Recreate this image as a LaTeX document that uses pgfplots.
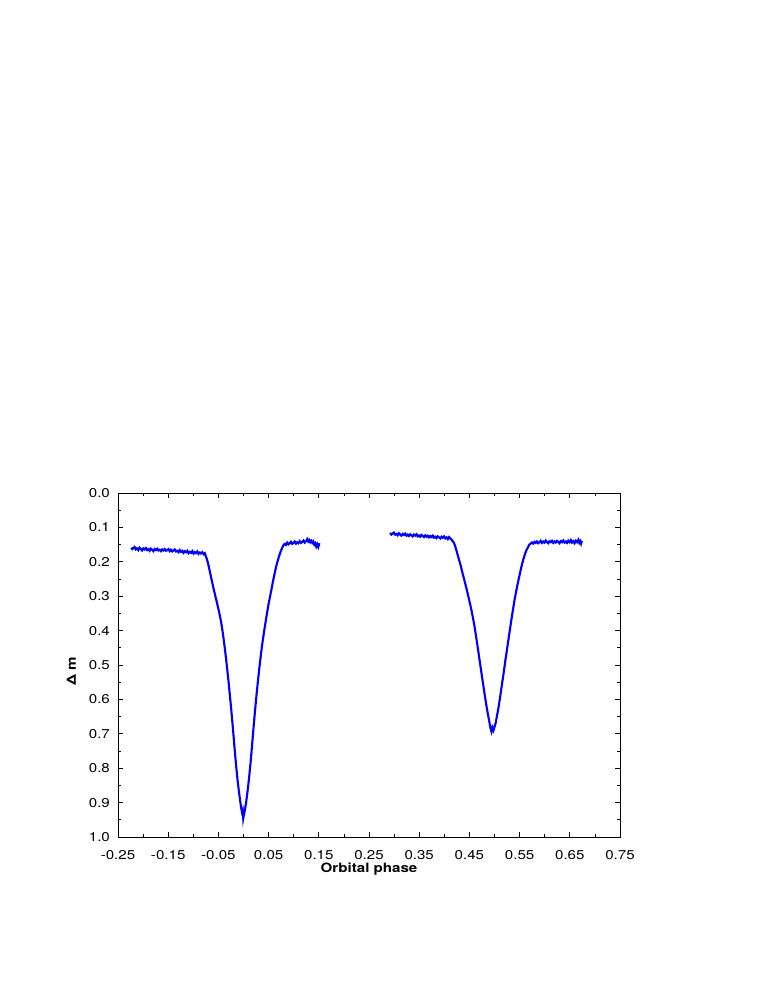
\documentclass[border=0pt]{standalone}
\usepackage{fontspec}
\setmainfont[FakeStretch=1.18]{TeX Gyre Heros}
\usepackage{pgfplots}
\pgfplotsset{compat=1.18}
\begin{document}
\fontsize{9.6}{11.5}\selectfont
\begin{tikzpicture}
% page area around the axis box (758 x 981 px at 0.75 pt/px)
\useasboundingbox (-88.5pt,-108pt) rectangle (480pt,627.75pt);
\begin{axis}[
    scale only axis,
    width=376.5pt, height=258pt,
    xmin=-0.25, xmax=0.75,
    ymin=0, ymax=1,
    y dir=reverse,
    xtick={-0.25,-0.15,...,0.76},
    xticklabels={-0.25,-0.15,-0.05,0.05,0.15,0.25,0.35,0.45,0.55,0.65,0.75},
    ytick={0,0.1,...,1.01},
    yticklabels={0.0,0.1,0.2,0.3,0.4,0.5,0.6,0.7,0.8,0.9,1.0},
    minor x tick num=1,
    minor y tick num=1,
    tick align=inside,
    major tick length=3.8pt,
    minor tick length=2.2pt,
    tick style={black, line width=0.5pt},
    axis line style={black, line width=0.6pt},
    xticklabel style={anchor=north, yshift=-7pt},
    yticklabel style={anchor=east, xshift=-2.7pt},
    xlabel={\textbf{Orbital phase}},
    ylabel={\textbf{Δ\hspace{0.25em}m}},
    xlabel style={at={(axis description cs:0.5,-0.092)}, anchor=center},
    ylabel style={at={(axis description cs:-0.093,0.482)}, anchor=center},
]
% primary eclipse
\addplot[blue, line width=1.6pt, no markers] coordinates {
(-0.2235,0.159)(-0.2215,0.163)(-0.219,0.160)(-0.217,0.157)(-0.2145,0.164)
(-0.212,0.161)(-0.2095,0.166)(-0.207,0.159)(-0.2045,0.163)(-0.202,0.167)
(-0.1995,0.161)(-0.197,0.164)(-0.1945,0.160)(-0.192,0.166)(-0.1895,0.163)
(-0.187,0.168)(-0.1845,0.162)(-0.182,0.165)(-0.1795,0.169)(-0.177,0.163)
(-0.1745,0.166)(-0.172,0.162)(-0.1695,0.167)(-0.167,0.165)(-0.1645,0.169)
(-0.162,0.164)(-0.1595,0.167)(-0.157,0.163)(-0.1545,0.168)(-0.152,0.166)
(-0.1495,0.163)(-0.147,0.169)(-0.1445,0.165)(-0.142,0.170)(-0.1395,0.167)
(-0.137,0.164)(-0.1345,0.170)(-0.132,0.168)(-0.1295,0.172)(-0.127,0.166)
(-0.1245,0.171)(-0.122,0.168)(-0.1195,0.174)(-0.117,0.169)(-0.1145,0.172)
(-0.112,0.168)(-0.1095,0.175)(-0.107,0.171)(-0.1045,0.174)(-0.102,0.169)
(-0.0995,0.176)(-0.097,0.172)(-0.0945,0.175)(-0.092,0.170)(-0.0895,0.177)
(-0.087,0.173)(-0.0845,0.176)(-0.082,0.172)(-0.0795,0.178)(-0.077,0.175)
(-0.0745,0.186)(-0.0725,0.194)(-0.070,0.208)(-0.068,0.222)(-0.065,0.242)
(-0.062,0.262)(-0.059,0.282)(-0.056,0.300)(-0.053,0.318)(-0.050,0.337)
(-0.047,0.357)(-0.044,0.380)(-0.041,0.409)(-0.038,0.442)(-0.035,0.478)
(-0.032,0.518)(-0.029,0.560)(-0.026,0.605)(-0.023,0.652)(-0.020,0.703)
(-0.017,0.755)(-0.014,0.803)(-0.011,0.846)(-0.008,0.880)(-0.005,0.912)
(-0.003,0.928)(-0.0015,0.922)(-0.0005,0.946)(0.001,0.934)(0.003,0.920)
(0.005,0.902)(0.008,0.868)(0.011,0.830)(0.014,0.785)(0.017,0.735)
(0.020,0.682)(0.023,0.632)(0.026,0.586)(0.029,0.543)(0.032,0.503)
(0.035,0.466)(0.038,0.432)(0.041,0.403)(0.044,0.375)(0.047,0.348)
(0.050,0.322)(0.053,0.300)(0.056,0.278)(0.059,0.255)(0.062,0.234)
(0.065,0.214)(0.068,0.198)(0.071,0.183)(0.074,0.170)(0.077,0.160)
(0.0795,0.152)(0.082,0.148)(0.0845,0.151)(0.087,0.144)(0.0895,0.149)
(0.092,0.146)(0.0945,0.142)(0.097,0.148)(0.0995,0.145)(0.102,0.141)
(0.1045,0.147)(0.107,0.143)(0.1095,0.146)(0.112,0.140)(0.1145,0.145)
(0.117,0.142)(0.1195,0.138)(0.122,0.144)(0.1245,0.140)(0.127,0.134)
(0.129,0.141)(0.131,0.137)(0.133,0.143)(0.135,0.139)(0.137,0.145)
(0.139,0.141)(0.141,0.150)(0.143,0.146)(0.145,0.156)(0.147,0.149)
(0.149,0.157)(0.1505,0.150)(0.151,0.146)
};
% secondary eclipse
\addplot[blue, line width=1.6pt, no markers] coordinates {
(0.292,0.116)(0.2945,0.121)(0.297,0.118)(0.2995,0.115)(0.302,0.121)
(0.3045,0.119)(0.307,0.123)(0.3095,0.117)(0.312,0.121)(0.3145,0.124)
(0.317,0.119)(0.3195,0.122)(0.322,0.118)(0.3245,0.124)(0.327,0.121)
(0.3295,0.125)(0.332,0.120)(0.3345,0.123)(0.337,0.126)(0.3395,0.121)
(0.342,0.124)(0.3445,0.120)(0.347,0.126)(0.3495,0.123)(0.352,0.127)
(0.3545,0.122)(0.357,0.125)(0.3595,0.128)(0.362,0.123)(0.3645,0.127)
(0.367,0.124)(0.3695,0.129)(0.372,0.125)(0.3745,0.128)(0.377,0.124)
(0.3795,0.130)(0.382,0.127)(0.3845,0.131)(0.387,0.126)(0.3895,0.129)
(0.392,0.132)(0.3945,0.127)(0.397,0.130)(0.3995,0.126)(0.402,0.132)
(0.4045,0.129)(0.407,0.134)(0.4095,0.128)(0.412,0.132)(0.4145,0.136)
(0.417,0.140)(0.4195,0.146)(0.422,0.156)(0.424,0.166)(0.427,0.182)
(0.430,0.197)(0.433,0.213)(0.436,0.231)(0.439,0.248)(0.442,0.265)
(0.445,0.283)(0.448,0.301)(0.451,0.320)(0.454,0.340)(0.457,0.362)
(0.460,0.386)(0.463,0.414)(0.466,0.443)(0.469,0.473)(0.472,0.503)
(0.475,0.533)(0.478,0.562)(0.481,0.591)(0.484,0.619)(0.487,0.644)
(0.490,0.667)(0.492,0.684)(0.494,0.694)(0.496,0.682)(0.498,0.690)
(0.500,0.680)(0.502,0.671)(0.504,0.655)(0.507,0.632)(0.510,0.605)
(0.513,0.575)(0.516,0.545)(0.519,0.515)(0.522,0.483)(0.525,0.454)
(0.528,0.424)(0.531,0.394)(0.534,0.365)(0.537,0.337)(0.540,0.310)
(0.543,0.287)(0.546,0.265)(0.549,0.245)(0.552,0.225)(0.555,0.206)
(0.558,0.190)(0.561,0.176)(0.564,0.165)(0.567,0.157)(0.5695,0.150)
(0.572,0.147)(0.5745,0.144)(0.577,0.147)(0.5795,0.142)(0.582,0.145)
(0.5845,0.141)(0.587,0.146)(0.5895,0.143)(0.592,0.139)(0.5945,0.145)
(0.597,0.141)(0.5995,0.144)(0.602,0.138)(0.6045,0.143)(0.607,0.146)
(0.6095,0.140)(0.612,0.143)(0.6145,0.139)(0.617,0.145)(0.6195,0.141)
(0.622,0.144)(0.6245,0.139)(0.627,0.142)(0.6295,0.146)(0.632,0.140)
(0.6345,0.143)(0.637,0.138)(0.6395,0.144)(0.642,0.141)(0.6445,0.145)
(0.647,0.139)(0.6495,0.143)(0.652,0.137)(0.6545,0.144)(0.657,0.140)
(0.6595,0.146)(0.662,0.139)(0.6645,0.143)(0.667,0.136)(0.669,0.145)
(0.671,0.140)(0.6725,0.147)(0.674,0.139)
};
\end{axis}
\end{tikzpicture}
\end{document}
